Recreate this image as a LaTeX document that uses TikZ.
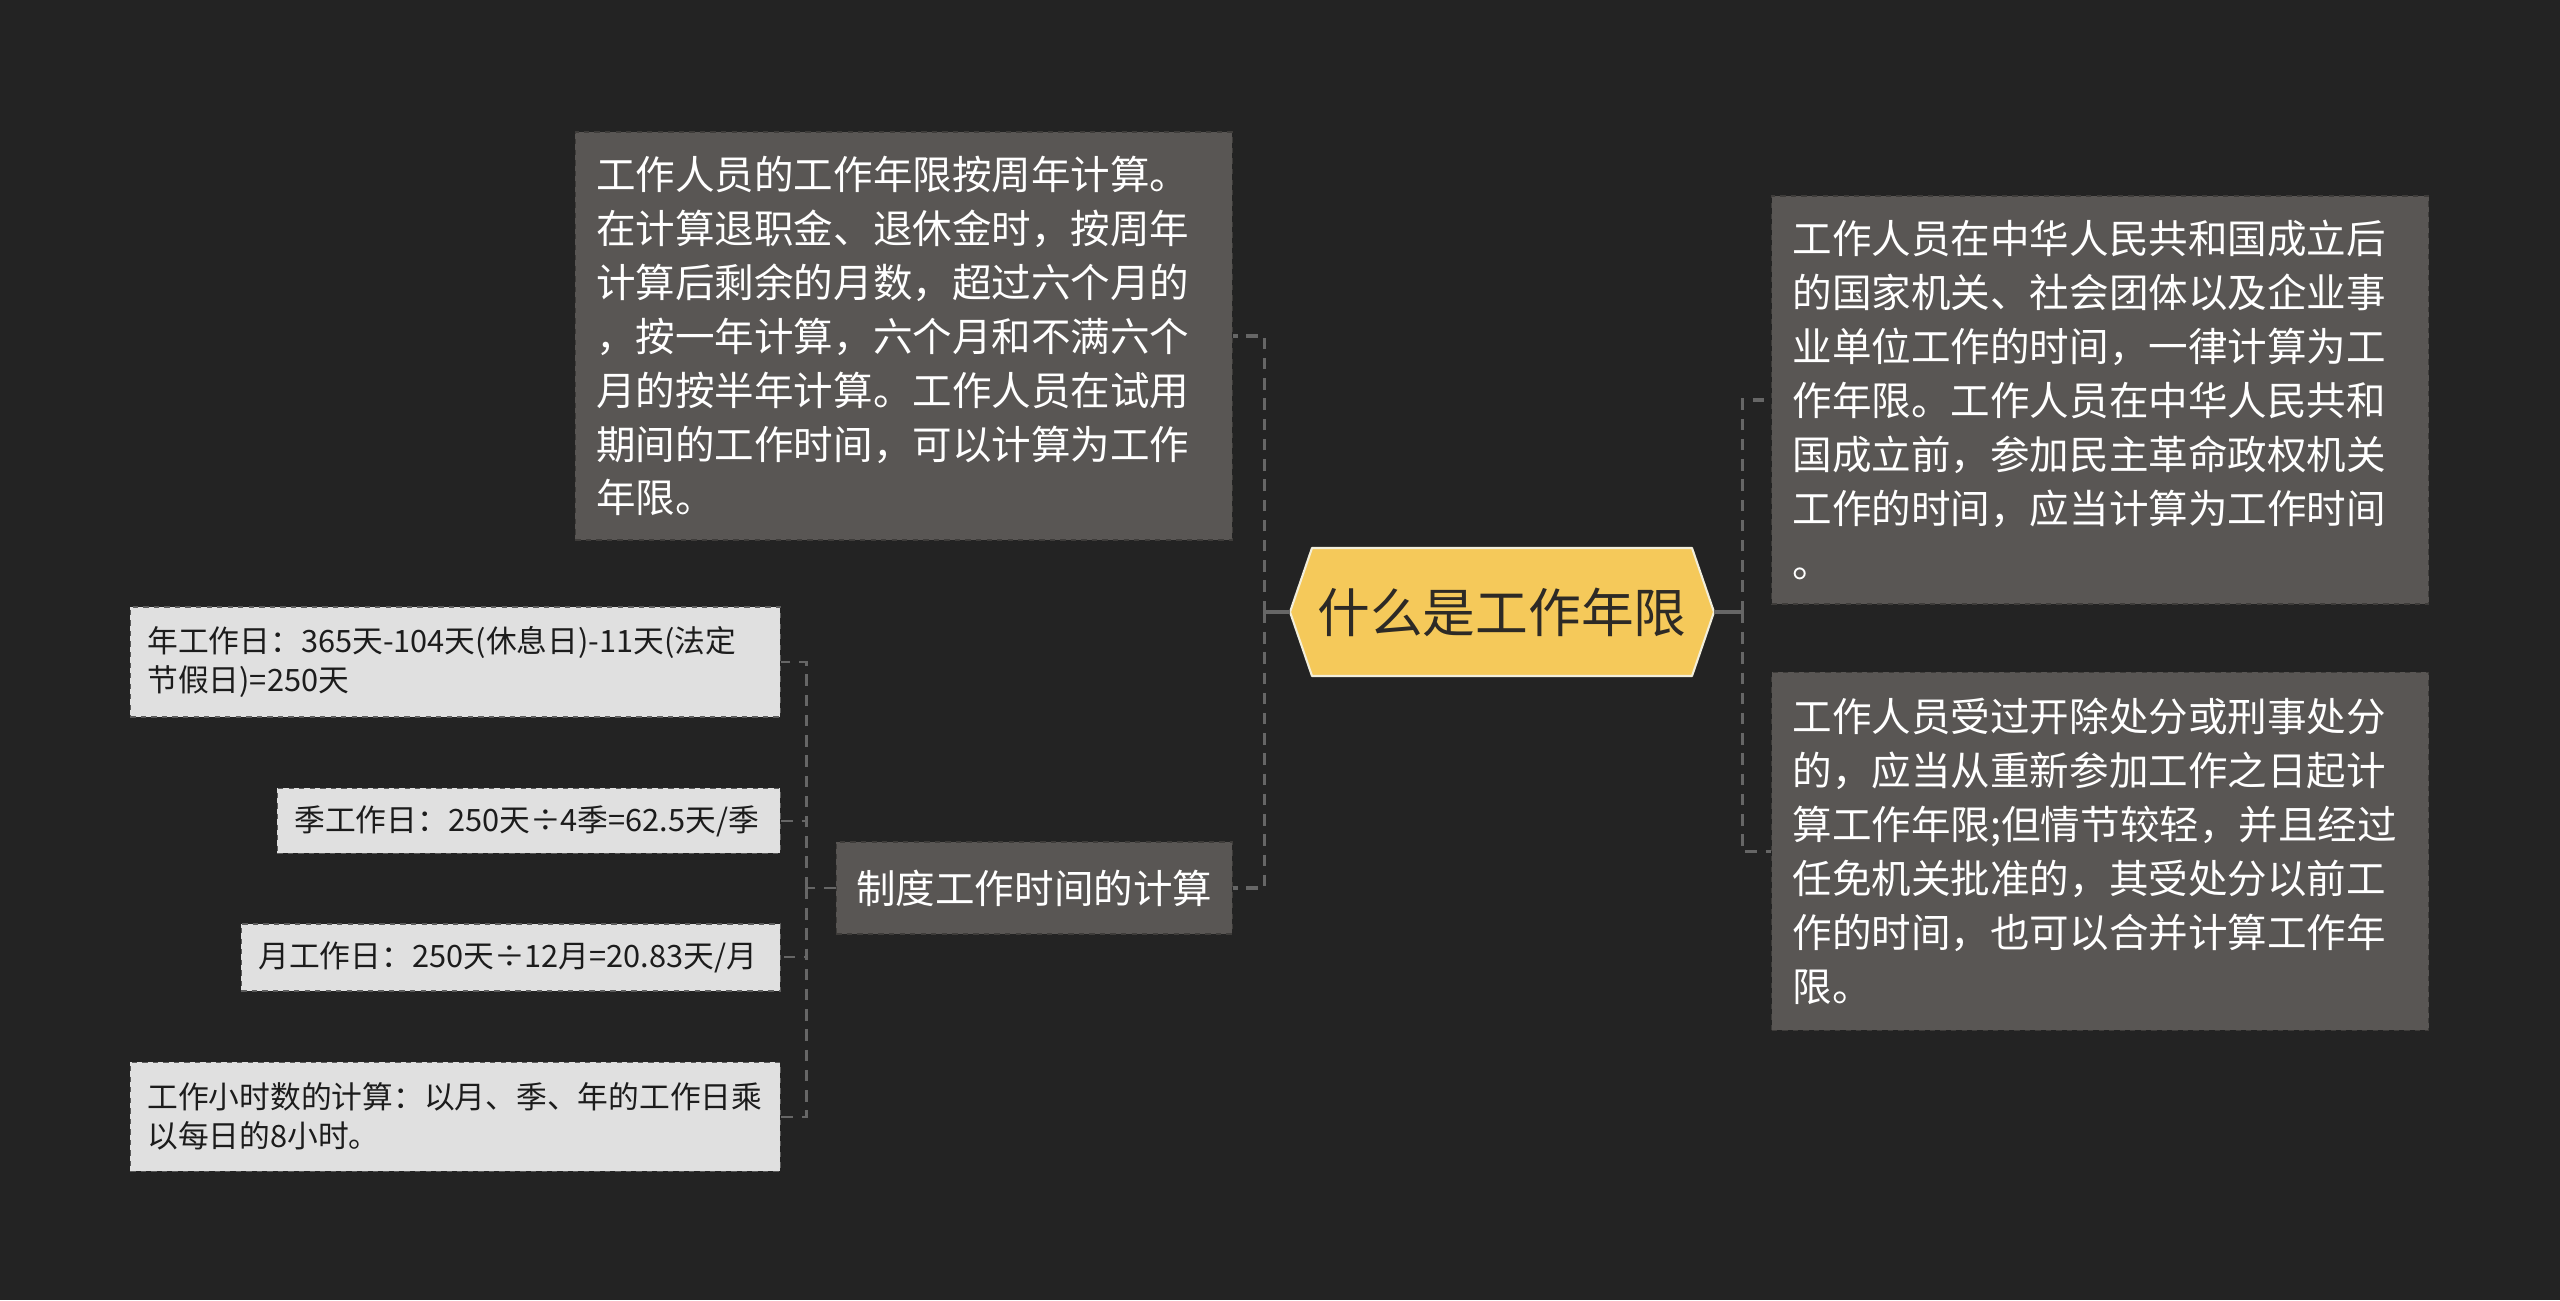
\documentclass[tikz,border=0pt]{standalone}
\usepackage{fontspec}
\usepackage{tikz}
\usetikzlibrary{positioning}
\newfontfamily\cjk{Noto Sans CJK SC}
\definecolor{canvasdark}{RGB}{35,35,35}
\definecolor{boxgray}{RGB}{89,86,84}
\definecolor{boxedge}{RGB}{62,60,58}
\definecolor{leafgray}{RGB}{224,224,224}
\definecolor{leafedge}{RGB}{92,92,92}
\definecolor{leafink}{RGB}{28,28,28}
\definecolor{rootyellow}{RGB}{245,201,90}
\definecolor{rootrim}{RGB}{242,238,218}
\definecolor{rootink}{RGB}{45,42,38}
\definecolor{linkgray}{RGB}{102,102,102}
\tikzset{
  textbox/.style={rectangle, draw=boxedge, dashed, line width=0.8pt, fill=boxgray,
    text=white, align=left, inner xsep=0.42cm, text width=12.3cm,
    minimum width=13.14cm, font=\cjk\fontsize{22.5}{30.7}\selectfont},
  subbox/.style={rectangle, draw=boxedge, dashed, line width=0.8pt, fill=boxgray,
    text=white, minimum width=7.92cm, minimum height=1.84cm,
    font=\cjk\fontsize{22.5}{30.7}\selectfont},
  leafbox/.style={rectangle, draw=leafedge, dashed, line width=0.8pt, fill=leafgray,
    text=leafink, align=left, inner xsep=0.34cm,
    font=\cjk\fontsize{17.5}{22.3}\selectfont},
  rootlabel/.style={rectangle, minimum width=8.48cm, minimum height=2.56cm,
    text=rootink, font=\cjk\fontsize{30}{36}\selectfont},
  rimline/.style={fill=rootyellow, draw=rootrim, line width=1.2pt, line join=round},
  trunk/.style={draw=linkgray, line width=2pt},
  link/.style={draw=linkgray, line width=2pt, dash pattern=on 6.5pt off 5pt},
  twig/.style={draw=linkgray, line width=1.3pt, dash pattern=on 6.5pt off 5pt},
}
\begin{document}
\begin{tikzpicture}
  \useasboundingbox (0,0) rectangle (51.2,26);
  \fill[canvasdark] (0,0) rectangle (51.2,26);

  % centre topic
  \coordinate (rootc) at (30.04,13.76);
  \filldraw[rimline] ([xshift=-4.24cm]rootc) -- ++(0.44,1.28) -- ++(7.6,0)
    -- ++(0.44,-1.28) -- ++(-0.44,-1.28) -- ++(-7.6,0) -- cycle;
  \node[rootlabel] (root) at (rootc) {什么是工作年限};

  % left branch
  \node[textbox, minimum height=8.16cm, anchor=east] (tlbox) at (24.66,19.28)
    {工作人员的工作年限按周年计算。\\
     在计算退职金、退休金时，按周年\\
     计算后剩余的月数，超过六个月的\\
     ，按一年计算，六个月和不满六个\\
     月的按半年计算。工作人员在试用\\
     期间的工作时间，可以计算为工作\\
     年限。};
  \node[subbox, anchor=east] (sysbox) at (24.66,8.24) {制度工作时间的计算};

  % leaves of sysbox
  \node[leafbox, text width=12.32cm, minimum height=2.2cm, anchor=east] (leaf1) at (15.62,12.76)
    {年工作日：365天-104天(休息日)-11天(法定\\节假日)=250天};
  \node[leafbox, text width=9.38cm, minimum height=1.3cm,
    below=1.4cm of leaf1.south east, anchor=north east] (leaf2)
    {季工作日：250天÷4季=62.5天/季};
  \node[leafbox, text width=10.1cm, minimum height=1.34cm,
    below=1.38cm of leaf2.south east, anchor=north east] (leaf3)
    {月工作日：250天÷12月=20.83天/月};
  \node[leafbox, text width=12.32cm, minimum height=2.18cm,
    below=1.4cm of leaf3.south east, anchor=north east] (leaf4)
    {工作小时数的计算：以月、季、年的工作日乘\\以每日的8小时。};

  % right branch
  \node[textbox, minimum height=8.16cm, anchor=west] (rtbox) at (35.42,18.0)
    {工作人员在中华人民共和国成立后\\
     的国家机关、社会团体以及企业事\\
     业单位工作的时间，一律计算为工\\
     作年限。工作人员在中华人民共和\\
     国成立前，参加民主革命政权机关\\
     工作的时间，应当计算为工作时间\\
     。};
  \node[textbox, minimum height=7.16cm, below=1.34cm of rtbox] (rbbox)
    {工作人员受过开除处分或刑事处分\\
     的，应当从重新参加工作之日起计\\
     算工作年限;但情节较轻，并且经过\\
     任免机关批准的，其受处分以前工\\
     作的时间，也可以合并计算工作年\\
     限。};

  % connectors
  \coordinate (lfork) at ([xshift=-0.5cm]root.west);
  \coordinate (rfork) at ([xshift=0.56cm]root.east);
  \coordinate (sfork) at ([xshift=-0.58cm]sysbox.west);
  \draw[trunk] (root.west) -- (lfork);
  \draw[trunk] (root.east) -- (rfork);
  \draw[link] (lfork) |- (tlbox.east);
  \draw[link] (lfork) |- (sysbox.east);
  \draw[link] (rfork) |- (rtbox.west);
  \draw[link] (rfork) |- (rbbox.west);
  \draw[twig] (sysbox.west) -- (sfork);
  \draw[twig] (sfork) |- (leaf1.east);
  \draw[twig] (sfork) |- (leaf2.east);
  \draw[twig] (sfork) |- (leaf3.east);
  \draw[twig] (sfork) |- (leaf4.east);
\end{tikzpicture}
\end{document}
